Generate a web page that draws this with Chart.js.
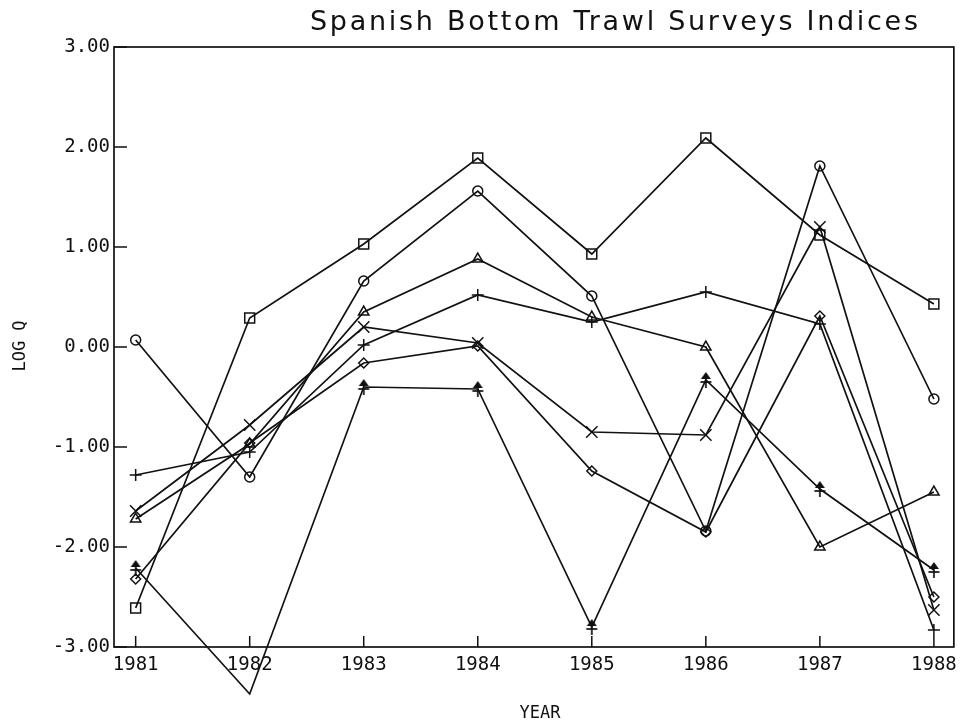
<!DOCTYPE html>
<html>
<head>
<meta charset="utf-8">
<script src="https://cdn.jsdelivr.net/npm/chart.js@4/dist/chart.umd.min.js"></script>
<style>
  html, body { margin: 0; padding: 0; background: #fff; }
  #wrap { width: 964px; height: 725px; position: relative; }
</style>
</head>
<body>
<div id="wrap"><canvas id="c" width="964" height="725"></canvas></div>
<script>
// ---- data ----
const years = [1981, 1982, 1983, 1984, 1985, 1986, 1987, 1988];
const squareSeries   = [-2.61, 0.29, 1.03, 1.89, 0.93, 2.09, 1.12, 0.43];
const circleSeries   = [0.07, -1.30, 0.66, 1.56, 0.51, -1.84, 1.81, -0.52];
const triangleSeries = [-1.72, -0.97, 0.35, 0.88, 0.30, 0.00, -2.00, -1.45];
const plusSeries     = [-1.28, -1.05, 0.02, 0.52, 0.25, 0.55, 0.23, -2.83];
const crossSeries    = [-1.64, -0.78, 0.20, 0.04, -0.85, -0.88, 1.20, -2.63];
const diamondSeries  = [-2.32, -0.96, -0.16, 0.01, -1.24, -1.85, 0.31, -2.50];
const arrowSeries    = [-2.21, -3.47, -0.40, -0.42, -2.80, -0.33, -1.42, -2.23];
const yTickValues = [-3, -2, -1, 0, 1, 2, 3];
const titleText = 'Spanish Bottom Trawl Surveys Indices';
const xTitle = 'YEAR';
const yTitle = 'LOG Q';

const INK = '#111';

// custom arrow marker (filled head on a crossed stem)
function makeArrow() {
  const c = document.createElement('canvas');
  c.width = 16; c.height = 18;
  const g = c.getContext('2d');
  g.strokeStyle = INK; g.fillStyle = INK; g.lineWidth = 1.7;
  g.beginPath(); g.moveTo(8, 1); g.lineTo(13, 8); g.lineTo(3, 8); g.closePath(); g.fill();
  g.beginPath(); g.moveTo(8, 3); g.lineTo(8, 17); g.stroke();
  g.beginPath(); g.moveTo(2.5, 11); g.lineTo(13.5, 11); g.stroke();
  return c;
}
const arrowImg = makeArrow();

function pts(arr) { return years.map((y, i) => ({ x: y, y: arr[i] })); }
function ds(arr, style, r) {
  return {
    data: pts(arr),
    borderColor: INK,
    borderWidth: 1.7,
    pointStyle: style,
    pointRadius: r,
    pointHoverRadius: r,
    pointBorderColor: INK,
    pointBackgroundColor: 'rgba(0,0,0,0)',
    pointBorderWidth: 1.5,
    tension: 0,
    clip: false
  };
}

const frameTicks = {
  id: 'frameTicks',
  afterDatasetsDraw(chart) {
    const ctx = chart.ctx, a = chart.chartArea;
    const xs = chart.scales.x, ys = chart.scales.y;
    ctx.save();
    ctx.strokeStyle = INK; ctx.lineWidth = 1.7;
    ctx.strokeRect(a.left, a.top, a.right - a.left, a.bottom - a.top);
    ctx.lineWidth = 1.5;
    ctx.beginPath();
    yTickValues.forEach(v => {
      const p = ys.getPixelForValue(v);
      ctx.moveTo(a.left, p); ctx.lineTo(a.left + 13, p);
    });
    years.forEach(v => {
      const p = xs.getPixelForValue(v);
      ctx.moveTo(p, a.bottom); ctx.lineTo(p, a.bottom - 11);
    });
    ctx.stroke();

    // title
    ctx.fillStyle = INK;
    ctx.font = '27px "DejaVu Sans"';
    ctx.textBaseline = 'alphabetic';
    ctx.textAlign = 'left';
    const target = 608;
    const w0 = ctx.measureText(titleText).width;
    const sp = (target - w0) / (titleText.length - 1);
    ctx.letterSpacing = sp + 'px';
    ctx.fillText(titleText, 310, 30);
    ctx.letterSpacing = '0px';

    // x title
    ctx.font = '17px "DejaVu Sans Mono"';
    ctx.textAlign = 'center';
    ctx.fillText(xTitle, 540, 718);

    // y title
    ctx.save();
    ctx.translate(25, 346);
    ctx.rotate(-Math.PI / 2);
    ctx.textAlign = 'center';
    ctx.fillText(yTitle, 0, 0);
    ctx.restore();
    ctx.restore();
  }
};

new Chart(document.getElementById('c'), {
  type: 'line',
  data: {
    datasets: [
      ds(squareSeries, 'rect', 7),
      ds(circleSeries, 'circle', 5),
      ds(triangleSeries, 'triangle', 6),
      ds(plusSeries, 'cross', 6),
      ds(crossSeries, 'crossRot', 8),
      ds(diamondSeries, 'rectRot', 5),
      ds(arrowSeries, arrowImg, 8)
    ]
  },
  options: {
    responsive: false,
    animation: false,
    events: [],
    layout: { padding: { left: 0, right: 7, top: 47, bottom: 0 } },
    plugins: { legend: { display: false }, tooltip: { enabled: false }, title: { display: false } },
    scales: {
      x: {
        type: 'linear',
        min: 1980.81,
        max: 1988.175,
        grid: { display: false, drawTicks: false },
        border: { display: false },
        afterBuildTicks: s => { s.ticks = years.map(v => ({ value: v })); },
        afterFit: s => { s.height = 78; },
        ticks: {
          padding: 7,
          color: INK,
          font: { family: 'DejaVu Sans Mono', size: 19 },
          maxRotation: 0,
          autoSkip: false,
          callback: v => String(v)
        }
      },
      y: {
        type: 'linear',
        min: -3,
        max: 3,
        grid: { display: false, drawTicks: false },
        border: { display: false },
        afterBuildTicks: s => { s.ticks = yTickValues.map(v => ({ value: v })); },
        afterFit: s => { s.width = 114; },
        ticks: {
          padding: 4,
          color: INK,
          font: { family: 'DejaVu Sans Mono', size: 19 },
          callback: v => Number(v).toFixed(2)
        }
      }
    }
  },
  plugins: [frameTicks]
});
</script>
</body>
</html>
